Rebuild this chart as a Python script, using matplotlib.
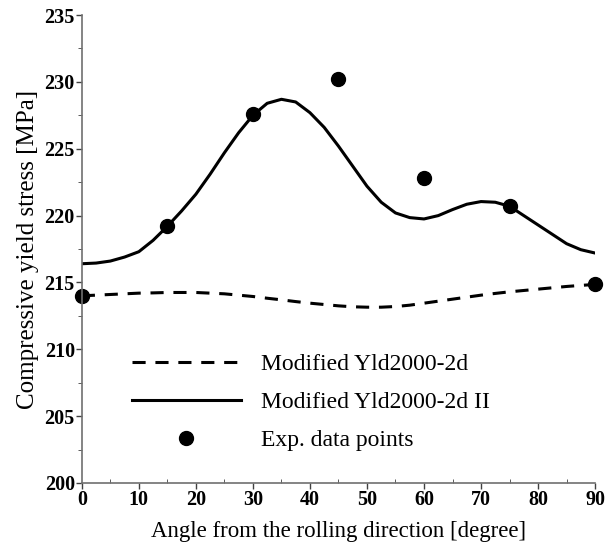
import matplotlib
matplotlib.use("Agg")
import matplotlib.pyplot as plt
from matplotlib.ticker import MultipleLocator

# values (every 2.5 degrees)
angle = [0, 2.5, 5, 7.5, 10, 12.5, 15, 17.5, 20, 22.5, 25, 27.5, 30, 32.5, 35, 37.5, 40, 42.5, 45,
         47.5, 50, 52.5, 55, 57.5, 60, 62.5, 65, 67.5, 70, 72.5, 75, 77.5, 80, 82.5, 85, 87.5, 90]
yld2000 = [214.0, 214.05, 214.1, 214.15, 214.2, 214.22, 214.25, 214.25, 214.25, 214.2,
           214.15, 214.05, 213.95, 213.82, 213.7, 213.57, 213.45, 213.35, 213.25,
           213.18, 213.15, 213.15, 213.2, 213.3, 213.45, 213.6, 213.75, 213.9, 214.05,
           214.18, 214.3, 214.4, 214.5, 214.6, 214.7, 214.78, 214.85]
yld2000_ii = [216.4, 216.45, 216.6, 216.9, 217.3, 218.15, 219.2, 220.35, 221.6, 223.1,
              224.7, 226.2, 227.5, 228.4, 228.7, 228.5, 227.7, 226.6, 225.2,
              223.7, 222.2, 221.0, 220.2, 219.85, 219.75, 220.0, 220.45, 220.85, 221.05,
              221.0, 220.7, 220.0, 219.3, 218.6, 217.9, 217.45, 217.2]
exp_angle = [0, 15, 30, 45, 60, 75, 90]
exp_stress = [214.0, 219.2, 227.6, 230.25, 222.8, 220.7, 214.85]

plt.rcParams['font.family'] = ['Liberation Serif', 'DejaVu Serif']

fig = plt.figure(figsize=(6.06, 5.46), dpi=100)
ax = fig.add_axes([0.135, 0.1154, 0.847, 0.857])

ax.plot(angle, yld2000, color='black', lw=2.2, ls=(0, (4.3, 3.2)), label='Modified Yld2000-2d')
ax.plot(angle, yld2000_ii, color='black', lw=2.2, label='Modified Yld2000-2d II')
ax.plot(exp_angle, exp_stress, 'o', color='black', ms=10, label='Exp. data points', clip_on=False)

ax.set_xlim(0, 90)
ax.set_ylim(200, 235)
ax.xaxis.set_major_locator(MultipleLocator(10))
ax.xaxis.set_minor_locator(MultipleLocator(5))
ax.yaxis.set_major_locator(MultipleLocator(5))
ax.yaxis.set_minor_locator(MultipleLocator(2.5))

for s in ['top', 'right']:
    ax.spines[s].set_visible(False)
for s in ['left', 'bottom']:
    ax.spines[s].set_color('#707070')
    ax.spines[s].set_linewidth(1.2)

ax.tick_params(axis='both', which='major', direction='out', length=4, width=1,
               color='#404040', labelsize=14.5, pad=1)
ax.tick_params(axis='x', which='minor', direction='in', length=3, color='#404040')
ax.tick_params(axis='y', which='minor', direction='out', length=3, color='#404040')
for lab in ax.get_xticklabels() + ax.get_yticklabels():
    lab.set_fontweight('bold')

ax.set_xlabel('Angle from the rolling direction [degree]', fontsize=16.5, labelpad=8)
ax.set_ylabel('Compressive yield stress [MPa]', fontsize=18, labelpad=4)

ax.legend(loc='upper left', bbox_to_anchor=(0.097, 0.277), frameon=False, fontsize=17,
          handlelength=4.65, handletextpad=0.85, labelspacing=0.7, numpoints=1,
          borderpad=0, borderaxespad=0)

fig.savefig('out.png', dpi=100)
